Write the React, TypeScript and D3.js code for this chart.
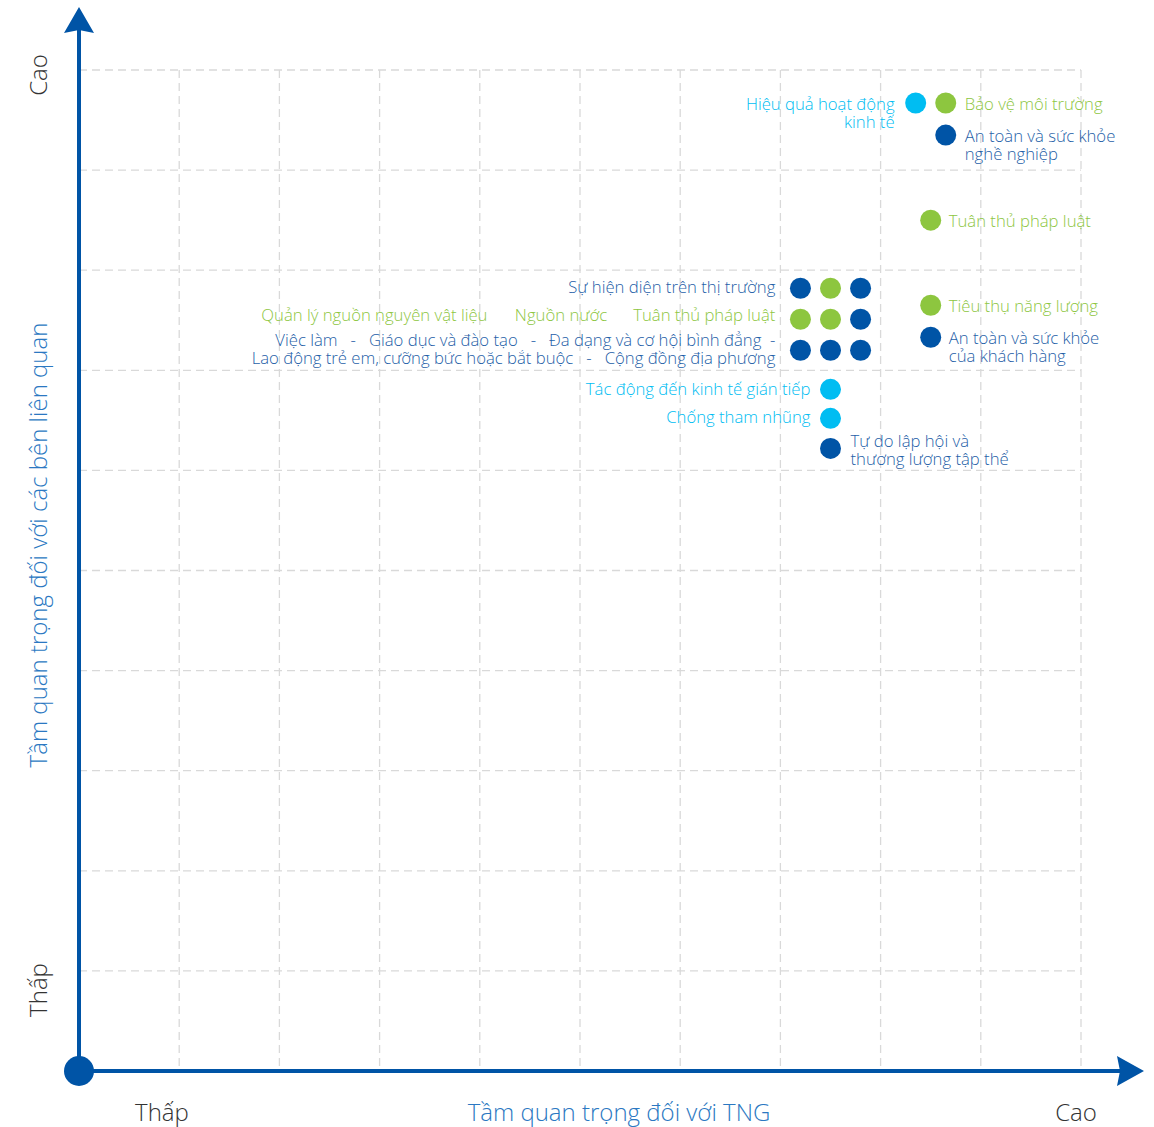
import React from "react";
import * as d3 from "d3";

const W = 1154;
const H = 1127;

const gridTicks = [0, 1, 2, 3, 4, 5, 6, 7, 8, 9, 10];

type Pt = { x: number; y: number; c: "cyan" | "green" | "navy" };
const points: Pt[] = [
  { x: 8.35, y: 9.67, c: "cyan" },
  { x: 8.65, y: 9.67, c: "green" },
  { x: 8.65, y: 9.35, c: "navy" },
  { x: 8.5, y: 8.5, c: "green" },
  { x: 8.5, y: 7.65, c: "green" },
  { x: 8.5, y: 7.33, c: "navy" },
  { x: 7.2, y: 7.82, c: "navy" },
  { x: 7.5, y: 7.82, c: "green" },
  { x: 7.8, y: 7.82, c: "navy" },
  { x: 7.2, y: 7.51, c: "green" },
  { x: 7.5, y: 7.51, c: "green" },
  { x: 7.8, y: 7.51, c: "navy" },
  { x: 7.2, y: 7.2, c: "navy" },
  { x: 7.5, y: 7.2, c: "navy" },
  { x: 7.8, y: 7.2, c: "navy" },
  { x: 7.5, y: 6.81, c: "cyan" },
  { x: 7.5, y: 6.52, c: "cyan" },
  { x: 7.5, y: 6.22, c: "navy" },
];

type Lbl = { x: number; y: number; lines: string[]; c: "cyan" | "green" | "navy"; anchor: "start" | "end" };
const labels: Lbl[] = [
  { x: 8.14, y: 9.67, lines: ["Hiệu quả hoạt động", "kinh tế"], c: "cyan", anchor: "end" },
  { x: 8.84, y: 9.67, lines: ["Bảo vệ môi trường"], c: "green", anchor: "start" },
  { x: 8.84, y: 9.35, lines: ["An toàn và sức khỏe", "nghề nghiệp"], c: "navy", anchor: "start" },
  { x: 8.68, y: 8.5, lines: ["Tuân thủ pháp luật"], c: "green", anchor: "start" },
  { x: 8.68, y: 7.65, lines: ["Tiêu thụ năng lượng"], c: "green", anchor: "start" },
  { x: 8.68, y: 7.33, lines: ["An toàn và sức khỏe", "của khách hàng"], c: "navy", anchor: "start" },
  { x: 6.95, y: 7.84, lines: ["Sự hiện diện trên thị trường"], c: "navy", anchor: "end" },
  { x: 1.82, y: 7.56, lines: ["Quản lý nguồn nguyên vật liệu"], c: "green", anchor: "start" },
  { x: 4.35, y: 7.56, lines: ["Nguồn nước"], c: "green", anchor: "start" },
  { x: 6.95, y: 7.56, lines: ["Tuân thủ pháp luật"], c: "green", anchor: "end" },
  {
    x: 6.95,
    y: 7.31,
    lines: [
      "Việc làm   -   Giáo dục và đào tạo   -   Đa dạng và cơ hội bình đẳng  -",
      "Lao động trẻ em, cưỡng bức hoặc bắt buộc   -   Cộng đồng địa phương",
    ],
    c: "navy",
    anchor: "end",
  },
  { x: 7.3, y: 6.82, lines: ["Tác động đến kinh tế gián tiếp"], c: "cyan", anchor: "end" },
  { x: 7.3, y: 6.54, lines: ["Chống tham nhũng"], c: "cyan", anchor: "end" },
  { x: 7.7, y: 6.3, lines: ["Tự do lập hội và", "thương lượng tập thể"], c: "navy", anchor: "start" },
];

const xAxisTitle = "Tầm quan trọng đối với TNG";
const yAxisTitle = "Tầm quan trọng đối với các bên liên quan";
const lowLabel = "Thấp";
const highLabel = "Cao";

const colors = { cyan: "#00bdf2", green: "#8dc63f", navy: "#0054a6" };
const FONT = "'Open Sans', 'Noto Sans', sans-serif";

export default function App() {
  const x = d3.scaleLinear().domain([0, 10]).range([79, 1081]);
  const y = d3.scaleLinear().domain([0, 10]).range([1071, 70]);
  const ox = x(0);
  const oy = y(0);
  const lineH = 18;

  return (
    <svg width={W} height={H} style={{ position: "absolute", left: 0, top: 0, background: "#fff" }}>
      {/* grid */}
      <g stroke="#d9d9d9" strokeWidth={1.3} strokeDasharray="8,5" fill="none">
        {gridTicks.slice(1).map((t) => (
          <line key={"h" + t} x1={x(0)} x2={x(10)} y1={y(t)} y2={y(t)} />
        ))}
        {gridTicks.slice(1).map((t) => (
          <line key={"v" + t} x1={x(t)} x2={x(t)} y1={y(10)} y2={y(0)} />
        ))}
      </g>

      {/* axes */}
      <line x1={ox} x2={ox} y1={oy} y2={30} stroke={colors.navy} strokeWidth={4} />
      <path d={`M${ox},7 L${ox + 15},33 L${ox},30 L${ox - 15},33 Z`} fill={colors.navy} />
      <line x1={ox} x2={1120} y1={oy} y2={oy} stroke={colors.navy} strokeWidth={4} />
      <path d={`M1144,${oy} L1117,${oy - 15} L1120,${oy} L1117,${oy + 15} Z`} fill={colors.navy} />
      <circle cx={ox} cy={oy} r={15} fill={colors.navy} />

      {/* axis labels */}
      <g fontFamily={FONT} fontWeight={300} fontSize={24}>
        <text x={162} y={1111} textAnchor="middle" dominantBaseline="central" fill="#333">
          {lowLabel}
        </text>
        <text x={1076} y={1111} textAnchor="middle" dominantBaseline="central" fill="#333">
          {highLabel}
        </text>
        <text x={619} y={1111} textAnchor="middle" dominantBaseline="central" fill="#2b78c2">
          {xAxisTitle}
        </text>
        <text transform="translate(37,75) rotate(-90)" textAnchor="middle" dominantBaseline="central" fill="#333">
          {highLabel}
        </text>
        <text transform="translate(37,990) rotate(-90)" textAnchor="middle" dominantBaseline="central" fill="#333">
          {lowLabel}
        </text>
        <text transform="translate(37,545) rotate(-90)" textAnchor="middle" dominantBaseline="central" fill="#2b78c2">
          {yAxisTitle}
        </text>
      </g>

      {/* points */}
      {points.map((p, i) => (
        <circle key={i} cx={x(p.x)} cy={y(p.y)} r={10.5} fill={colors[p.c]} />
      ))}

      {/* labels */}
      <g fontFamily={FONT} fontWeight={300} fontSize={16.7}>
        {labels.map((l, i) => (
          <text key={i} x={x(l.x)} y={y(l.y)} textAnchor={l.anchor} fill={colors[l.c] === colors.navy ? "#1f5fa8" : colors[l.c]} style={{ whiteSpace: "pre" }}>
            {l.lines.map((s, j) => (
              <tspan key={j} x={x(l.x)} y={y(l.y) + j * lineH} dominantBaseline="central">
                {s}
              </tspan>
            ))}
          </text>
        ))}
      </g>
    </svg>
  );
}
